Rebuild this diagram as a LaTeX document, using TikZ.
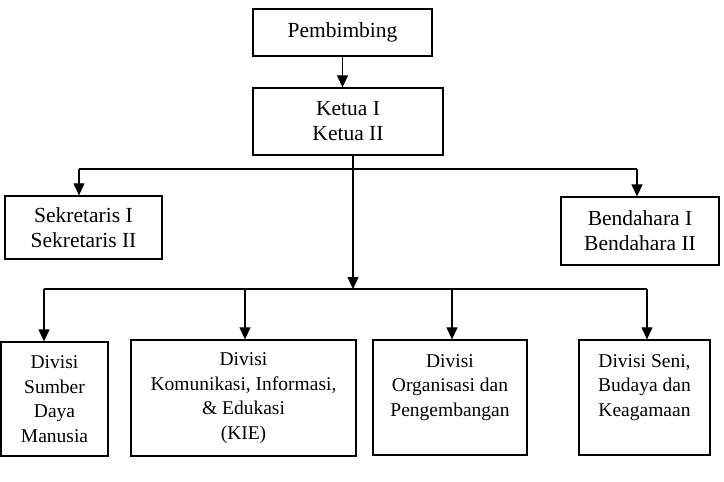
\documentclass[tikz,border=0pt]{standalone}
\usepackage{fontspec}
\setmainfont{Liberation Serif}
\usetikzlibrary{arrows.meta, positioning, calc}

\begin{document}
\begin{tikzpicture}[x=1pt, y=-1pt,
  topbox/.style={rectangle, draw=black, line width=1.3pt, inner sep=0pt,
    align=center, font=\fontsize{21.5}{25}\selectfont},
  divbox/.style={rectangle, draw=black, line width=1.3pt, inner sep=0pt,
    align=center, font=\fontsize{19.5}{24.5}\selectfont},
  arrow/.style={-{Triangle[length=12pt, width=11pt]}, line width=1.2pt},
  link/.style={line width=1.2pt}
]
\useasboundingbox (0,0) rectangle (724,482);

\node (pembimbing) [topbox, minimum width=179pt, minimum height=47pt] at (342.5,32.5) {Pembimbing};
\node (ketua) [topbox, minimum width=190pt, minimum height=67pt] at (348,121.5) {Ketua I\\Ketua II};

\node (sekretaris) [topbox, minimum width=157pt, minimum height=63pt] at (83.5,227.5) {Sekretaris I\\Sekretaris II};
\node (bendahara) [topbox, minimum width=158pt, minimum height=68pt] at (640,231) {Bendahara I\\Bendahara II};

\node (sdm) [divbox, minimum width=107pt, minimum height=114pt] at (54.5,399) {Divisi\\Sumber\\Daya\\Manusia};
\node (kie) [divbox, minimum width=225pt, minimum height=116pt] at (243.5,398) {Divisi\\Komunikasi, Informasi,\\\& Edukasi\\(KIE)};
\node (organisasi) [divbox, minimum width=154pt, minimum height=115pt] at (450,397.5) {Divisi\\Organisasi dan\\Pengembangan\\\phantom{P}};
\node (seni) [divbox, minimum width=131pt, minimum height=115pt] at (644.5,397.5) {Divisi Seni,\\Budaya dan\\Keagamaan\\\phantom{K}};

\coordinate (atas1) at (79,169);
\coordinate (atas2) at (637,169);
\coordinate (pusat) at (353,289);
\coordinate (bawah1) at (44,289);
\coordinate (bawah2) at (245,289);
\coordinate (bawah3) at (452,289);
\coordinate (bawah4) at (647,289);

\draw [arrow] (pembimbing.south) -- (pembimbing.south |- ketua.north);

\draw [link] (atas1) -- (atas2);
\draw [arrow] (atas1) -- (atas1 |- sekretaris.north);
\draw [arrow] (atas2) -- (atas2 |- bendahara.north);

\draw [arrow] (ketua.south -| pusat) -- (pusat);

\draw [link] (bawah1) -- (bawah4);
\draw [arrow] (bawah1) -- (bawah1 |- sdm.north);
\draw [arrow] (bawah2) -- (bawah2 |- kie.north);
\draw [arrow] (bawah3) -- (bawah3 |- organisasi.north);
\draw [arrow] (bawah4) -- (bawah4 |- seni.north);

\end{tikzpicture}
\end{document}
